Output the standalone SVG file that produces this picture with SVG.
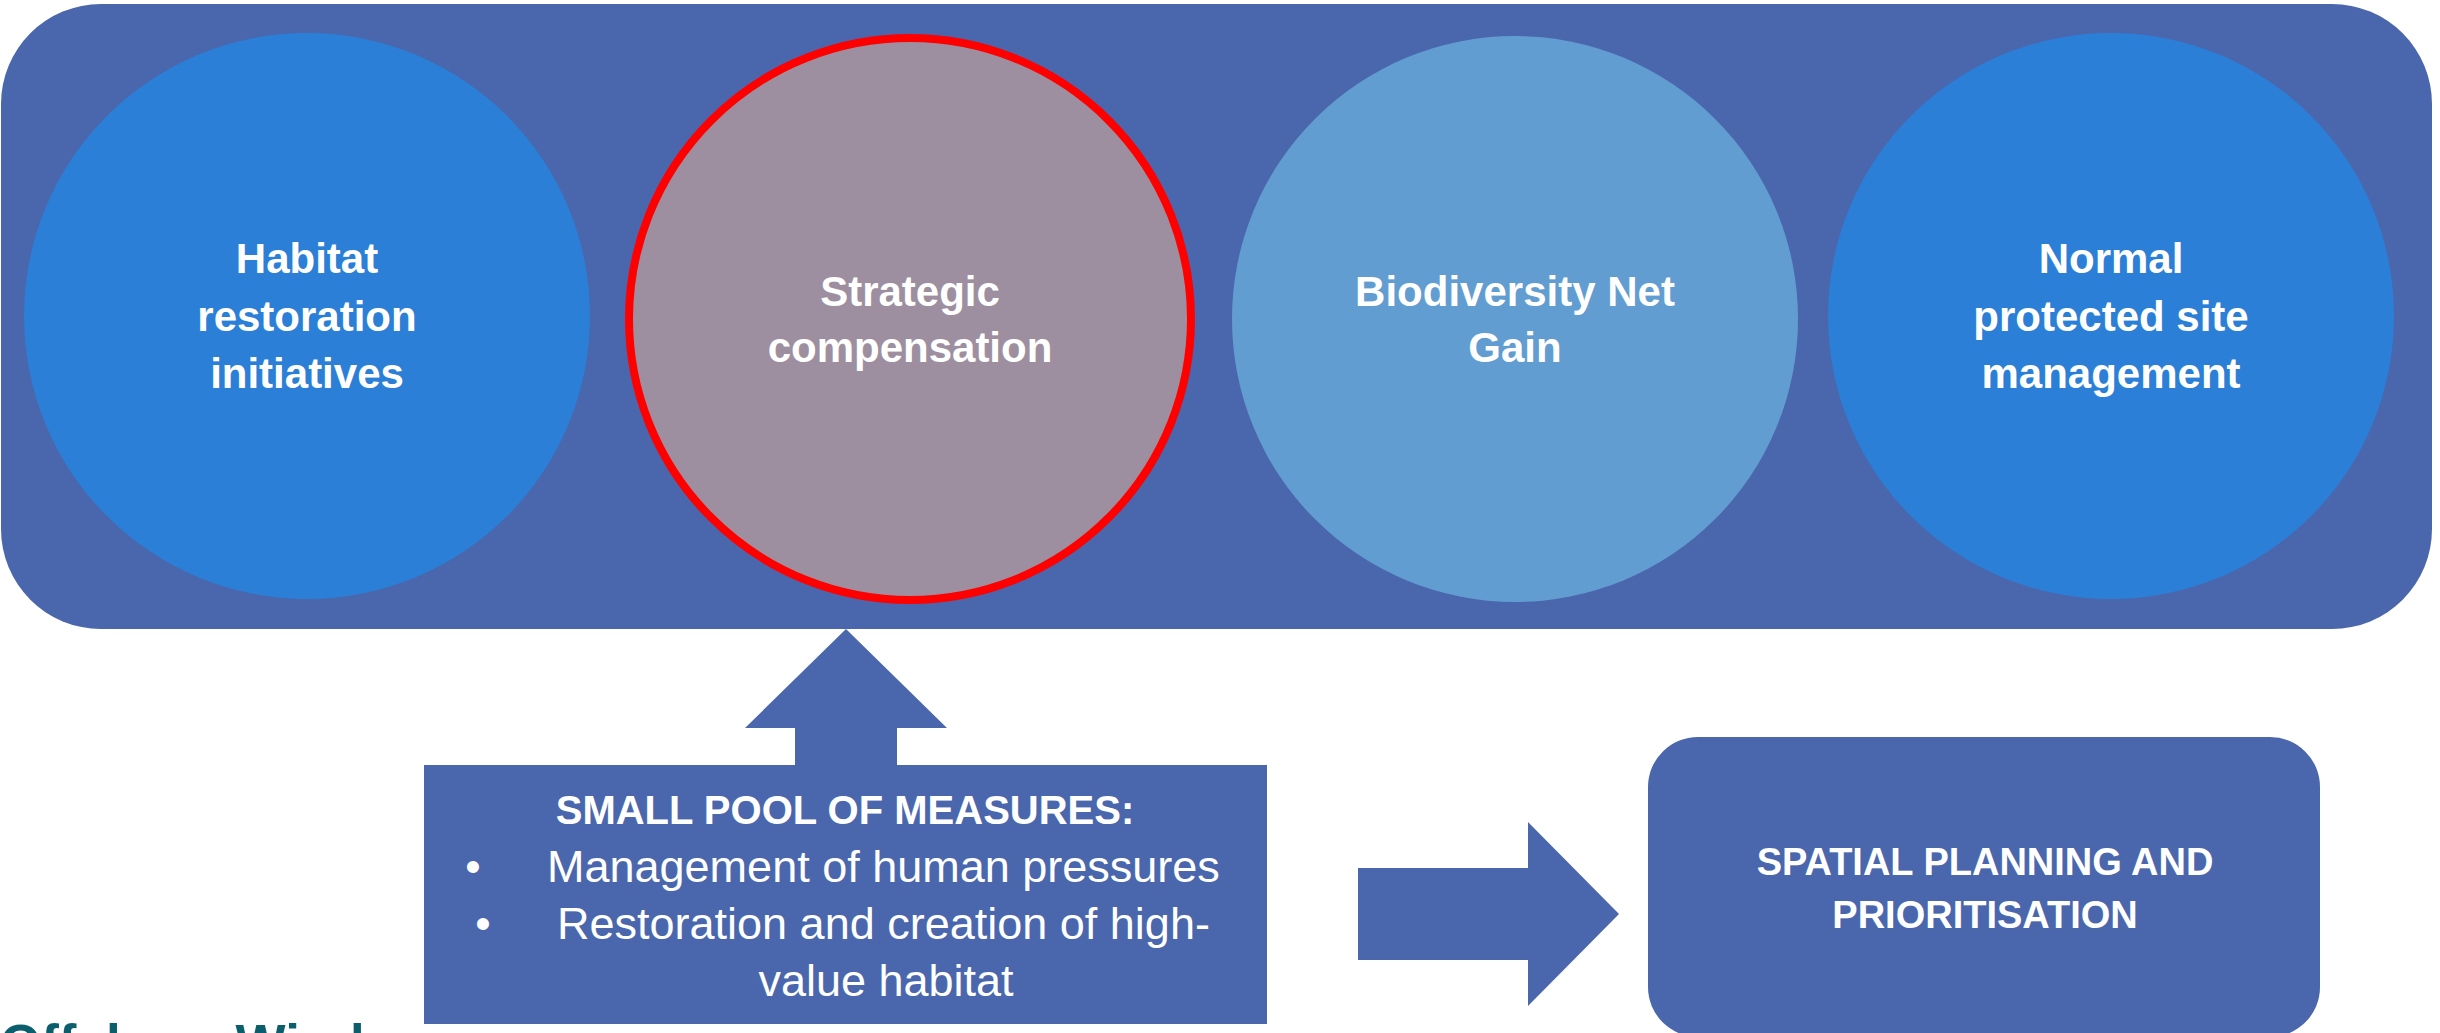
<svg xmlns="http://www.w3.org/2000/svg" width="2440" height="1033" viewBox="0 0 2440 1033">
<style>
.t{font-family:"Liberation Sans",Arial,sans-serif;fill:#FFFFFF;text-anchor:middle}
.b{font-weight:bold}
.c{font-size:42px;font-weight:bold}
.shape{fill:#4A67AD}
</style>
<rect x="0" y="0" width="2440" height="1033" fill="#FFFFFF"/>
<g id="container">
<rect class="shape" x="1" y="4" width="2431" height="625" rx="100" ry="100"/>
</g>
<g id="habitat-restoration">
<circle cx="307" cy="316" r="283" fill="#2B7FD6"/>
<text class="t c" x="307" y="273">Habitat</text>
<text class="t c" x="307" y="331">restoration</text>
<text class="t c" x="307" y="388">initiatives</text>
</g>
<g id="strategic-compensation">
<circle cx="910" cy="319" r="281" fill="#9D8F9F" stroke="#FF0000" stroke-width="8"/>
<text class="t c" x="910" y="306">Strategic</text>
<text class="t c" x="910" y="362">compensation</text>
</g>
<g id="biodiversity-net-gain">
<circle cx="1515" cy="319" r="283" fill="#629DD1"/>
<text class="t c" x="1515" y="306">Biodiversity Net</text>
<text class="t c" x="1515" y="362">Gain</text>
</g>
<g id="normal-protected-site">
<circle cx="2111" cy="316" r="283" fill="#2B7FD6"/>
<text class="t c" x="2111" y="273">Normal</text>
<text class="t c" x="2111" y="331">protected site</text>
<text class="t c" x="2111" y="388">management</text>
</g>
<g id="connectors">
<polygon class="shape" points="846,629 947,728 897,728 897,766 795,766 795,728 745,728"/>
<polygon class="shape" points="1358,868 1528,868 1528,822 1619,914 1528,1006 1528,960 1358,960"/>
</g>
<g id="small-pool">
<rect class="shape" x="424" y="765" width="843" height="259"/>
<text class="t b" x="845" y="824" font-size="40">SMALL POOL OF MEASURES:</text>
<text class="t" x="473" y="882" font-size="44">•</text>
<text class="t" x="547" y="882" font-size="45" style="text-anchor:start">Management of human pressures</text>
<text class="t" x="483" y="939" font-size="44">•</text>
<text class="t" x="557" y="939" font-size="45" style="text-anchor:start">Restoration and creation of high-</text>
<text class="t" x="886" y="996" font-size="45">value habitat</text>
</g>
<g id="spatial-planning">
<rect class="shape" x="1648" y="737" width="672" height="300" rx="50" ry="50"/>
<text class="t b" x="1985" y="875" font-size="38">SPATIAL PLANNING AND</text>
<text class="t b" x="1985" y="928" font-size="38">PRIORITISATION</text>
</g>
<g id="footer">
<text x="0" y="1062" font-family="Liberation Sans, Arial, sans-serif" font-weight="bold" font-size="53" fill="#0B5E6B">Offshore Wind</text>
</g>
</svg>
